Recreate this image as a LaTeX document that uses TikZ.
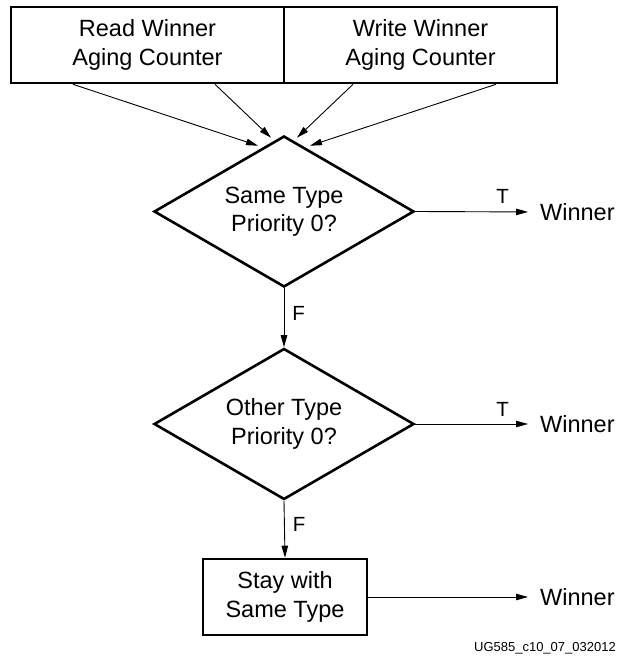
\documentclass[tikz,border=0pt]{standalone}
\usepackage{fontspec}
\setmainfont{Liberation Sans}
\usetikzlibrary{shapes.geometric,arrows.meta}
\begin{document}
\begin{tikzpicture}[x=1pt,y=-1pt,
  mainfont/.style={font=\fontsize{23.5}{28.5}\selectfont},
  boxnode/.style={draw, line width=2.6pt, rectangle, align=center, inner sep=0pt, mainfont},
  decnode/.style={draw, line width=2.6pt, diamond, aspect=1.7, align=center, inner sep=0pt,
                  minimum width=260pt, minimum height=151pt, mainfont},
  winnode/.style={anchor=west, inner sep=0pt, mainfont},
  flow/.style={line width=0.9pt, -{Triangle[length=12pt,width=6.5pt]}},
  tflabel/.style={inner sep=0pt, font=\fontsize{20.5}{24}\selectfont}
]
\useasboundingbox (0,0) rectangle (618,663);

\node[boxnode, minimum width=273pt, minimum height=76pt] (rw) at (147.5,45) {Read Winner\\Aging Counter};
\node[boxnode, minimum width=273pt, minimum height=76pt] (ww) at (420.5,45) {Write Winner\\Aging Counter};

\node[decnode] (d1) at (284,211.5) {Same Type\\Priority 0?};
\node[decnode] (d2) at (284,424) {Other Type\\Priority 0?};

\node[boxnode, minimum width=164pt, minimum height=76pt] (st) at (285,597) {Stay with\\Same Type};

\node[winnode] (w1) at (540,212) {Winner};
\node[winnode] (w2) at (540,424) {Winner};
\node[winnode] (w3) at (540,597) {Winner};

% arrows from top boxes
\draw[flow] ([xshift=-74.5pt]rw.south) -- ([shift={(-26,11)}]d1.north);
\draw[flow] ([xshift=67.5pt]rw.south) -- ([shift={(-13,3)}]d1.north);
\draw[flow] ([xshift=-67.5pt]ww.south) -- ([shift={(13,3)}]d1.north);
\draw[flow] ([xshift=75.5pt]ww.south) -- ([shift={(26,11)}]d1.north);

% T branches
\draw[flow, shorten >=12pt] (d1.east) -- node[tflabel, pos=0.70, above=7.5pt] (t1) {T} (w1.west);
\draw[flow, shorten >=12pt] (d2.east) -- node[tflabel, pos=0.70, above=7.5pt] (t2) {T} (w2.west);
\draw[flow, shorten >=12pt] (st.east) -- (w3.west);

% F branches
\draw[flow] (d1.south) -- node[tflabel, pos=0.43, right=8pt] (f1) {F} (d2.north);
\draw[flow] (d2.south) -- node[tflabel, pos=0.41, right=8pt] (f2) {F} (st.north);

\node[anchor=east, inner sep=0pt, font=\fontsize{13}{15}\selectfont] (id) at (616,648) {UG585\_c10\_07\_032012};
\end{tikzpicture}
\end{document}
